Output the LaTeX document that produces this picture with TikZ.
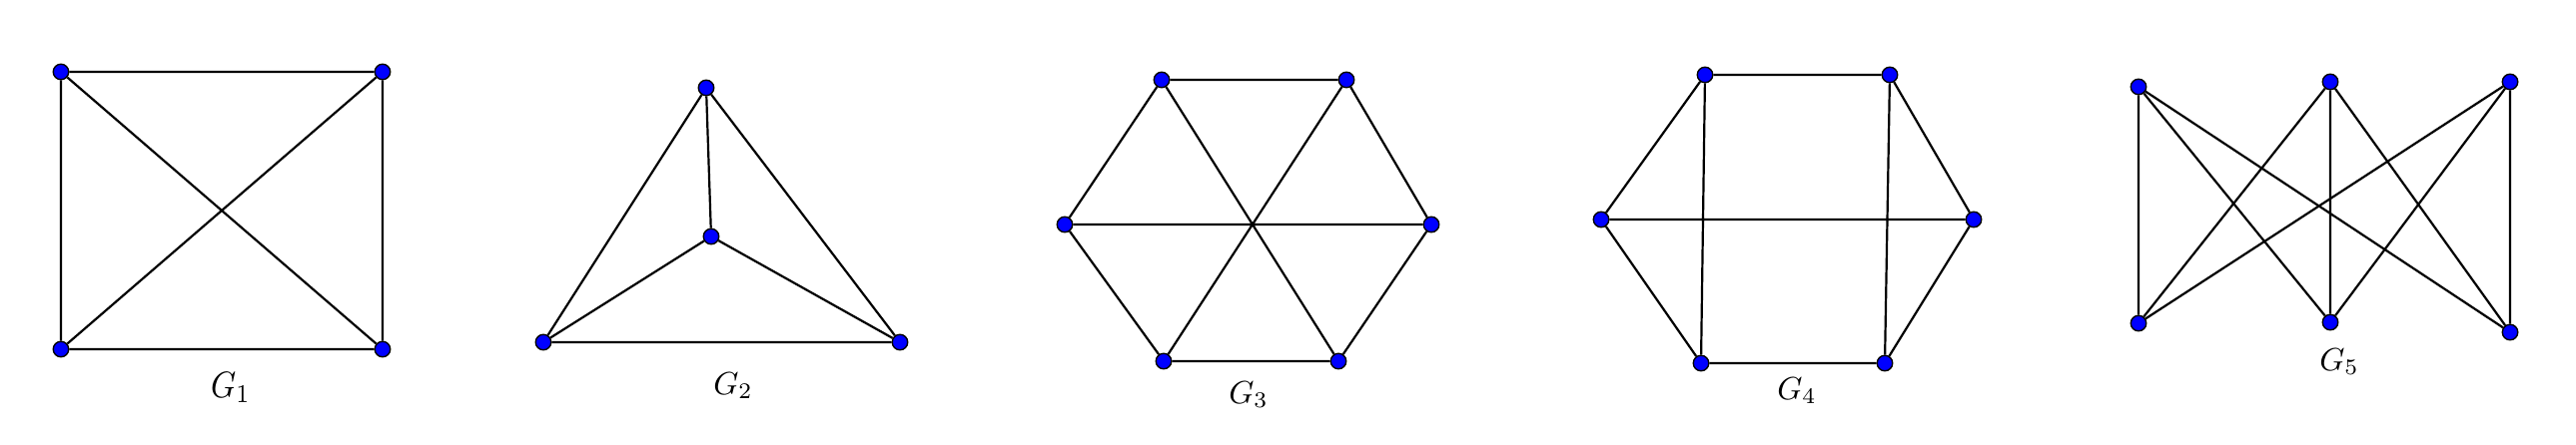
\documentclass[tikz,border=0pt]{standalone}
\begin{document}
\begin{tikzpicture}[x=1pt,y=-1pt,
  vtx/.style={circle,fill=blue,draw=black,line width=1.4pt,inner sep=0pt,minimum size=15.5pt},
  edge/.style={line width=2.2pt,black},
  lbl/.style={anchor=base,inner sep=0pt,transform shape,scale=3.2}]
\useasboundingbox (0,0) rectangle (2579,446);
% G1
\node[vtx] (a1) at (61,72) {};
\node[vtx] (a2) at (383,72) {};
\node[vtx] (a3) at (61,350) {};
\node[vtx] (a4) at (383,350) {};
\draw[edge] (a1)--(a2) (a3)--(a4) (a1)--(a3) (a2)--(a4) (a1)--(a4) (a2)--(a3);
\node[lbl,xscale=1.0,yscale=1.15] (l1) at (231,398) {$G_1$};
% G2
\node[vtx] (b1) at (707,88) {};
\node[vtx] (b2) at (712,237) {};
\node[vtx] (b3) at (544,343) {};
\node[vtx] (b4) at (901,343) {};
\draw[edge] (b1)--(b2) (b1)--(b3) (b1)--(b4) (b2)--(b3) (b2)--(b4) (b3)--(b4);
\node[lbl] (l2) at (734,395) {$G_2$};
% G3
\node[vtx] (c1) at (1163,80) {};
\node[vtx] (c2) at (1348,80) {};
\node[vtx] (c3) at (1066,225) {};
\node[vtx] (c4) at (1433,225) {};
\node[vtx] (c5) at (1165,362) {};
\node[vtx] (c6) at (1340,362) {};
\draw[edge] (c1)--(c2) (c1)--(c3) (c2)--(c4) (c3)--(c5) (c4)--(c6) (c5)--(c6)
  (c3)--(c4) (c1)--(c6) (c2)--(c5);
\node[lbl] (l3) at (1250,404) {$G_3$};
% G4
\node[vtx] (d1) at (1707,75) {};
\node[vtx] (d2) at (1892,75) {};
\node[vtx] (d3) at (1603,220) {};
\node[vtx] (d4) at (1976,220) {};
\node[vtx] (d5) at (1703,364) {};
\node[vtx] (d6) at (1887,364) {};
\draw[edge] (d1)--(d2) (d1)--(d3) (d2)--(d4) (d3)--(d4) (d3)--(d5) (d4)--(d6)
  (d5)--(d6) (d1)--(d5) (d2)--(d6);
\node[lbl] (l4) at (1799,400) {$G_4$};
% G5
\node[vtx] (e1) at (2141,87) {};
\node[vtx] (e2) at (2333,82) {};
\node[vtx] (e3) at (2513,82) {};
\node[vtx] (e4) at (2141,324) {};
\node[vtx] (e5) at (2333,323) {};
\node[vtx] (e6) at (2513,333) {};
\draw[edge] (e1)--(e4) (e1)--(e5) (e1)--(e6) (e2)--(e4) (e2)--(e5) (e2)--(e6)
  (e3)--(e4) (e3)--(e5) (e3)--(e6);
\node[lbl] (l5) at (2342,371) {$G_5$};
\end{tikzpicture}
\end{document}
